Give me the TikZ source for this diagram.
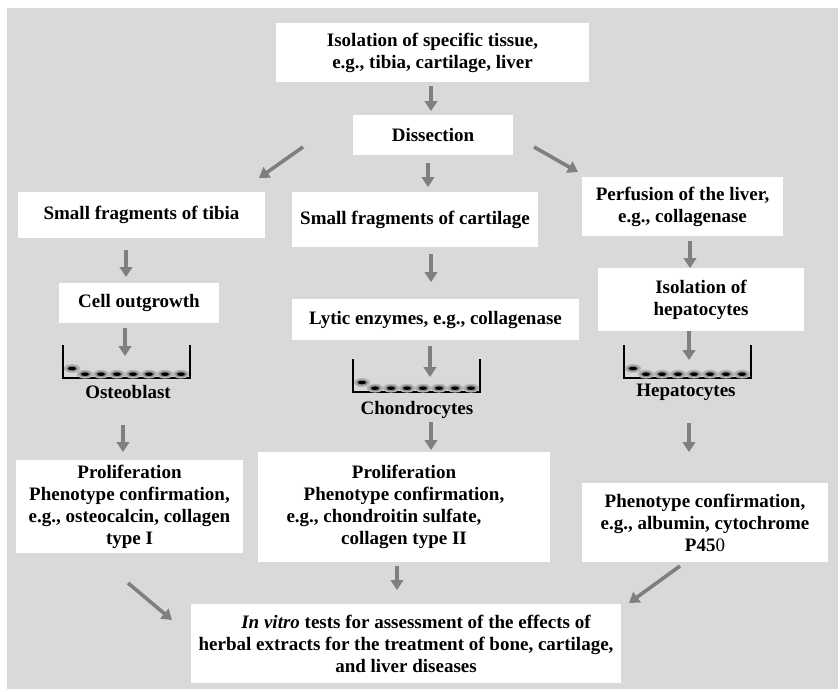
\documentclass[tikz,border=0pt]{standalone}
\usepackage{fontspec}
\setmainfont{Liberation Serif}
\usetikzlibrary{arrows.meta}
\definecolor{bggray}{HTML}{D9D9D9}
\definecolor{arrgray}{HTML}{7F7F7F}
\definecolor{cellrim}{HTML}{B4B4B4}
\definecolor{cellbody}{HTML}{8C8C8C}
% one cultured cell: grey body with a dark nucleus
\newcommand\cellblob[2]{%
  \fill[cellrim] (#1,#2) ellipse[x radius=8.2pt, y radius=4.4pt];
  \fill[cellbody] (#1,#2) ellipse[x radius=6pt, y radius=3pt];
  \fill[black] (#1,#2) ellipse[x radius=4pt, y radius=1.8pt];}
\begin{document}
\begin{tikzpicture}[x=1pt,y=-1pt,
  box/.style={fill=white, inner sep=0pt, align=center,
    font=\fontsize{19}{22}\selectfont\bfseries},
  lbl/.style={inner sep=0pt, font=\fontsize{19}{22}\selectfont\bfseries},
  arr/.style={draw=arrgray, line width=3.6pt,
    -{Triangle[width=12.5pt,length=10pt]}, fill=arrgray},
  wall/.style={line width=1.5pt, black},
  dish/.pic={
    \draw[wall] (0,-33) -- (0,0) -- (127,0) -- (127,-33);
    \foreach \cx in {22,38,...,118} {\cellblob{\cx}{-3.8}}
    \cellblob{9}{-9.5}
  }]
\useasboundingbox (0,0) rectangle (840,691);
\fill[bggray] (7,8) rectangle (838,689);

% process boxes
\node[box, minimum width=313, minimum height=59] (top) at (432.5,52.5)
  {Isolation of specific tissue,\\e.g., tibia, cartilage, liver};
\node[box, minimum width=160, minimum height=40] (dis) at (433,135) {Dissection};
\node[box, minimum width=247, minimum height=46] (tib) at (141.5,215)
  {Small fragments of tibia};
\node[box, minimum width=246, minimum height=55] (car) at (415,219.5)
  {Small fragments of cartilage};
\node[box, minimum width=201, minimum height=59] (per) at (682.5,206.5)
  {Perfusion of the liver,\\e.g., collagenase};
\node[box, minimum width=160, minimum height=40] (out) at (139,303) {Cell outgrowth};
\node[box, minimum width=287, minimum height=41] (lyt) at (435.5,319.5)
  {Lytic enzymes, e.g., collagenase};
\node[box, minimum width=206, minimum height=63] (iso) at (701,299.5)
  {Isolation of\\hepatocytes};
\node[box, minimum width=227, minimum height=93] (pl) at (129.5,506.5)
  {Proliferation\\Phenotype confirmation,\\e.g., osteocalcin, collagen\\type I};
\node[box, minimum width=292, minimum height=110] (pm) at (404,507)
  {Proliferation\\Phenotype confirmation,\\e.g., chondroitin sulfate,\hspace*{40pt}\mbox{}\\collagen type II};
\node[box, minimum width=246, minimum height=79] (pr) at (705,522.5)
  {Phenotype confirmation,\\e.g., albumin, cytochrome\\P45\textmd{0}};
\node[box, minimum width=430, minimum height=79] (bot) at (406,643.5)
  {\hspace*{20pt}\textit{In vitro} tests for assessment of the effects of\\herbal extracts for the treatment of bone, cartilage,\\and liver diseases};

% culture dishes and cell labels
\pic (dl) at (63,378) {dish};
\pic (dm) at (353,392) {dish};
\pic (dr) at (624,378) {dish};
\node[lbl] (ost) at (128,392) {Osteoblast};
\node[lbl] (cho) at (417,410) {Chondrocytes};
\node[lbl] (hep) at (686,392) {Hepatocytes};

% arrow end points
\coordinate (a1s) at (431,86);  \coordinate (a1e) at (431,111);
\coordinate (a2s) at (303,147); \coordinate (a2e) at (259,178);
\coordinate (a3s) at (428,163); \coordinate (a3e) at (428,187);
\coordinate (a4s) at (534,147); \coordinate (a4e) at (578,172);
\coordinate (a5s) at (126,250); \coordinate (a5e) at (126,277);
\coordinate (a6s) at (125,328); \coordinate (a6e) at (125,356);
\coordinate (a7s) at (431,254); \coordinate (a7e) at (431,282);
\coordinate (a8s) at (430,346); \coordinate (a8e) at (430,377);
\coordinate (a9s) at (690,241); \coordinate (a9e) at (690,268);
\coordinate (a10s) at (689,331); \coordinate (a10e) at (689,360);
\coordinate (a11s) at (123,425); \coordinate (a11e) at (123,452);
\coordinate (a12s) at (431,422); \coordinate (a12e) at (431,450);
\coordinate (a13s) at (689,423); \coordinate (a13e) at (689,452);
\coordinate (a14s) at (128,583); \coordinate (a14e) at (172,620);
\coordinate (a15s) at (397,566); \coordinate (a15e) at (397,590);
\coordinate (a16s) at (680,566); \coordinate (a16e) at (629,603);

\foreach \i in {1,...,16} {\draw[arr] (a\i s) -- (a\i e);}
\end{tikzpicture}
\end{document}
